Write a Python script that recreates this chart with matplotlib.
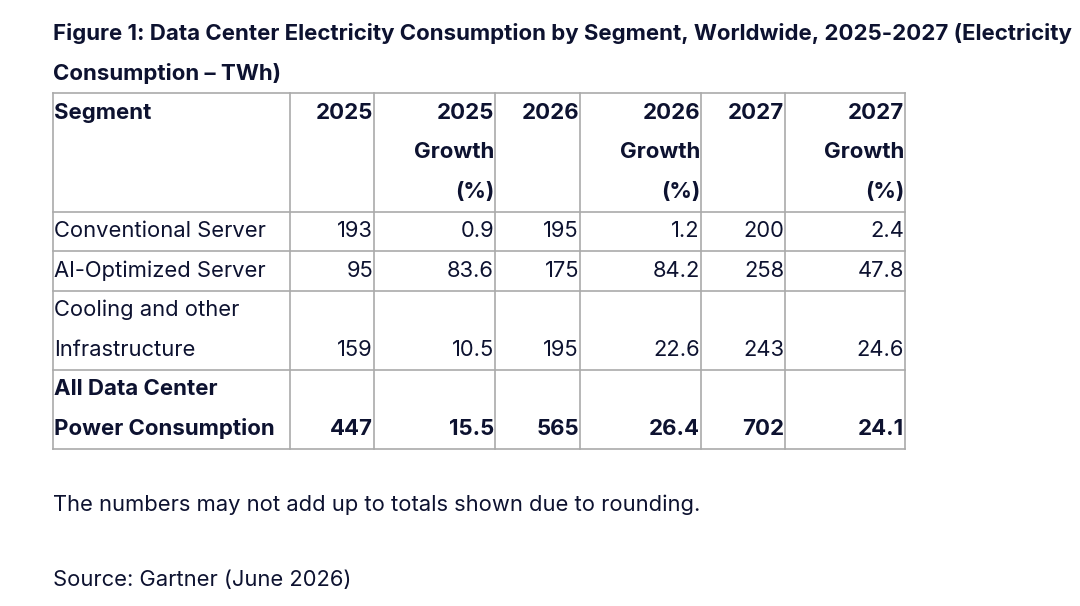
import matplotlib
matplotlib.use("Agg")
import matplotlib.pyplot as plt

title_lines = ["Figure 1: Data Center Electricity Consumption by Segment, Worldwide, 2025-2027 (Electricity",
               "Consumption \u2013 TWh)"]
header = [["Segment"], ["2025"], ["2025", "Growth", "(%)"], ["2026"],
          ["2026", "Growth", "(%)"], ["2027"], ["2027", "Growth", "(%)"]]
segments = [["Conventional Server"], ["AI-Optimized Server"],
            ["Cooling and other", "Infrastructure"],
            ["All Data Center", "Power Consumption"]]
values_2025 = ["193", "95", "159", "447"]
growth_2025 = ["0.9", "83.6", "10.5", "15.5"]
values_2026 = ["195", "175", "195", "565"]
growth_2026 = ["1.2", "84.2", "22.6", "26.4"]
values_2027 = ["200", "258", "243", "702"]
growth_2027 = ["2.4", "47.8", "24.6", "24.1"]
footnote = "The numbers may not add up to totals shown due to rounding."
source = "Source: Gartner (June 2026)"

ink = "#0d1230"
grid = "#aaaaaa"
font = "Inter"
fs = 15.8      # body text
fs_bold = 16   # title and bold rows
col_edges = [53, 290, 374, 495, 580, 701, 785, 905]
line_h = 39.5
pad = 1

fig = plt.figure(figsize=(10.8, 6.06), dpi=100)
ax = fig.add_axes([0, 0, 1, 1])
ax.set_xlim(0, 1080)
ax.set_ylim(606, 0)
ax.axis("off")

for i, t in enumerate(title_lines):
    ax.text(53, 34 + i * line_h, t, fontsize=fs_bold, fontweight="bold", family=font,
            color=ink, va="center", ha="left")

columns = [values_2025, growth_2025, values_2026, growth_2026, values_2027, growth_2027]
rows = [header] + [[seg] + [[c[r]] for c in columns] for r, seg in enumerate(segments)]
bold_rows = {0, len(rows) - 1}

y = 93
row_edges = [y]
for r, row in enumerate(rows):
    n = max(len(cell) for cell in row)
    bold = r in bold_rows
    for c, cell in enumerate(row):
        for k, line in enumerate(cell):
            # values sit on the last line of a cell, headers start at the top
            k_pos = k if r == 0 else n - len(cell) + k
            yy = y + line_h * (k_pos + 0.5)
            if c == 0:
                x, ha = col_edges[0] + pad, "left"
            else:
                x, ha = col_edges[c + 1] - pad, "right"
            ax.text(x, yy, line, ha=ha, va="center",
                    fontsize=fs_bold if bold else fs, family=font, color=ink,
                    fontweight="bold" if bold else "normal")
    y += n * line_h
    row_edges.append(y)

for x in col_edges:
    ax.plot([x, x], [row_edges[0], row_edges[-1]], color=grid, lw=1.2)
for ye in row_edges:
    ax.plot([col_edges[0], col_edges[-1]], [ye, ye], color=grid, lw=1.2)

ax.text(53, 505, footnote, fontsize=fs, family=font, color=ink, va="center")
ax.text(53, 580, source, fontsize=fs, family=font, color=ink, va="center")

fig.savefig("out.png", dpi=100, facecolor="white")
